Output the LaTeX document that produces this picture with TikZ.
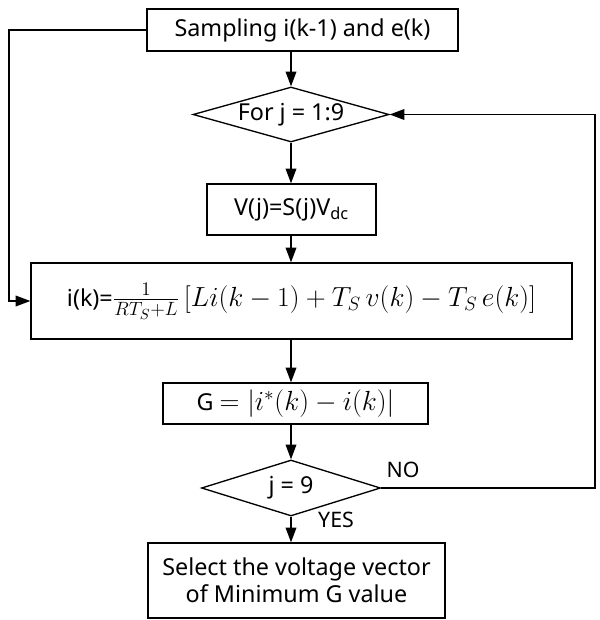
\documentclass[tikz,border=0pt]{standalone}
\usepackage{fontspec}
\setmainfont{Noto Sans}
\usetikzlibrary{arrows.meta,shapes.geometric}

\newcommand{\bigmath}[1]{{\fontsize{21}{24}\selectfont$#1$}}

\begin{document}
\begin{tikzpicture}[x=0.75pt, y=-0.75pt,
  box/.style={draw, line width=1pt, align=center, inner sep=2pt,
              font=\fontsize{17.5}{20}\selectfont},
  decision/.style={draw, diamond, line width=1pt, inner sep=0pt,
                   label={[font=\fontsize{17.5}{20}\selectfont]center:#1}},
  lbl/.style={font=\fontsize{16}{19}\selectfont, inner sep=0pt},
  arr/.style={-{Triangle[length=11pt, width=8pt]}, line width=1pt}
]
  \useasboundingbox (0,0) rectangle (599,620);

  \node[box, minimum width=233.25pt, minimum height=31.5pt] (samp) at (302.5,30)
    {Sampling i(k-1) and e(k)};
  \node[decision={For j = 1:9}, minimum width=147pt, minimum height=41.25pt] (forj) at (291,114.5) {};
  \node[box, minimum width=126.75pt, minimum height=38.25pt] (vbox) at (291.5,209.5)
    {V(j)=S(j)V\textsubscript{dc}};
  \node[box, minimum width=405.75pt, minimum height=57pt] (ibox) at (301.5,301)
    {i(k)=\bigmath{\frac{1}{RT_S+L}\,[Li(k-1)+T_S\,v(k)-T_S\,e(k)]}};
  \node[box, minimum width=198.75pt, minimum height=30.75pt] (gbox) at (295.5,403.5)
    {G \bigmath{=|i^{*}(k)-i(k)|}};
  \node[decision={j = 9}, minimum width=134.25pt, minimum height=42pt] (jnine) at (291,488) {};
  \node[box, minimum width=222.75pt, minimum height=56.25pt] (sel) at (296.5,580.5)
    {Select the voltage vector\\of Minimum G value};

  \node[lbl] (no) at (403,470) {NO};
  \node[lbl] (yes) at (336,520) {YES};

  \draw[arr] (forj.north |- samp.south) -- (forj.north);
  \draw[arr] (forj.south) -- (vbox.north -| forj.south);
  \draw[arr] (forj.south |- vbox.south) -- (forj.south |- ibox.north);
  \draw[arr] (forj.south |- ibox.south) -- (forj.south |- gbox.north);
  \draw[arr] (jnine.north |- gbox.south) -- (jnine.north);
  \draw[arr] (jnine.south) -- (jnine.south |- sel.north);

  % loops
  \coordinate (lft) at (9,30);
  \coordinate (rgt) at (595,488);
  \draw[arr] (samp.west) -- (lft) |- (ibox.west);
  \draw[arr] (jnine.east) -- (rgt) |- (forj.east);
\end{tikzpicture}
\end{document}
